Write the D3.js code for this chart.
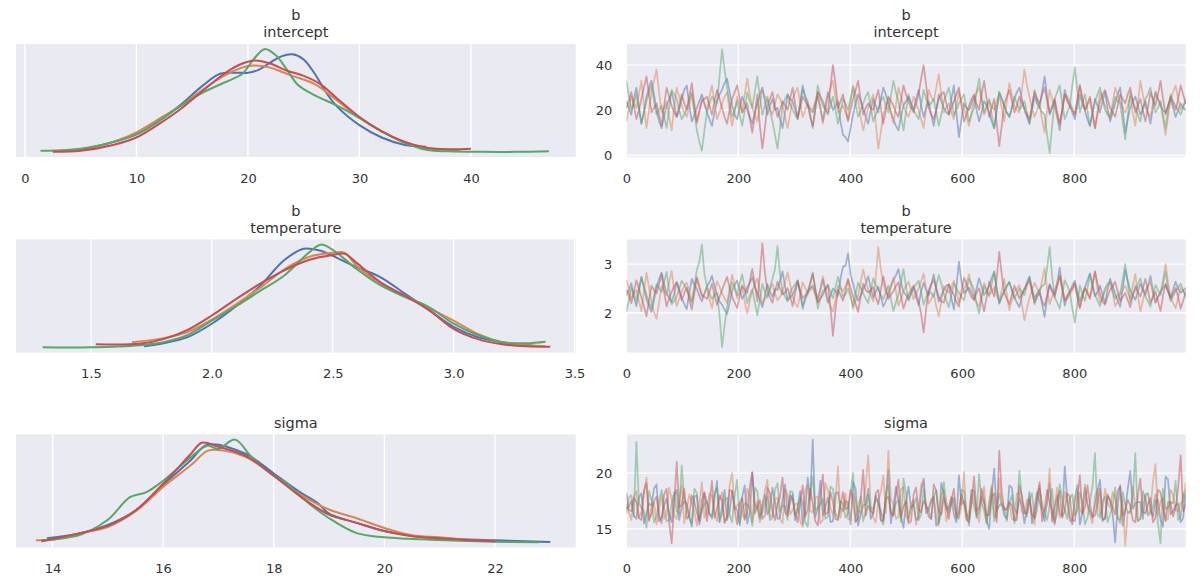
<!DOCTYPE html>
<html><head><meta charset="utf-8">
<script src="https://cdn.jsdelivr.net/npm/d3@7"></script>
<style>
body{margin:0;background:#fff}
svg text{font-family:"DejaVu Sans",sans-serif}
</style>
</head><body>
<svg id="c" width="1200" height="586"></svg>
<script>
// ---------- DATA ----------
const chainColors = ["#4C72B0", "#DD8452", "#55A868", "#C44E52"];
const drawStep = 4.5; // samples shown every 4.5 draws, A and B arrays interleaved

// KDE curves (x positions and relative density), per chain: blue, orange, green, red
const interceptKdeX = [
  [5,8,10,12,14,16,17.5,19,20,21,22,23,24,25,26,27,28,30,32,34,36],
  [3,6,8,10,12,14,16,18,19.5,20.5,22,23,24,26,28,30,32,34,36,38,39],
  [1.4,4,7,10,12,14,16,18,19.5,20.5,21.5,22.5,23.5,24.5,26,28,30,32,34,36,38,41,44,47],
  [2.5,5,8,10,12,14,16,18,19.5,20.7,22,23.5,25,26.5,28,30,32,34,36,38,40]
];
const interceptKdeY = [
  [0.02,0.10,0.17,0.30,0.46,0.65,0.76,0.77,0.77,0.80,0.87,0.93,0.95,0.90,0.76,0.58,0.44,0.26,0.14,0.07,0.05],
  [0.01,0.04,0.10,0.19,0.32,0.45,0.61,0.75,0.82,0.84,0.82,0.78,0.74,0.66,0.50,0.33,0.20,0.10,0.04,0.02,0.015],
  [0.01,0.02,0.07,0.17,0.30,0.45,0.58,0.68,0.76,0.90,1.0,0.94,0.80,0.65,0.55,0.45,0.33,0.20,0.09,0.02,0.005,0.0,0.0,0.005],
  [0.0,0.01,0.07,0.14,0.27,0.42,0.60,0.77,0.86,0.89,0.86,0.79,0.74,0.66,0.52,0.34,0.20,0.10,0.04,0.025,0.03]
];
const temperatureKdeX = [
  [1.72,1.8,1.9,2.0,2.1,2.2,2.3,2.38,2.45,2.5,2.6,2.7,2.8,2.9,3.0,3.1,3.2,3.35],
  [1.67,1.8,1.9,2.0,2.1,2.2,2.3,2.4,2.5,2.55,2.6,2.7,2.8,2.9,3.0,3.1,3.2,3.3,3.38],
  [1.3,1.5,1.7,1.8,1.9,2.0,2.1,2.2,2.3,2.4,2.45,2.5,2.6,2.7,2.8,2.9,3.0,3.1,3.2,3.3,3.38],
  [1.52,1.7,1.8,1.9,2.0,2.1,2.2,2.3,2.4,2.5,2.55,2.6,2.7,2.8,2.9,3.0,3.1,3.2,3.3,3.4]
];
const temperatureKdeY = [
  [0.01,0.04,0.10,0.23,0.40,0.60,0.85,0.96,0.94,0.89,0.78,0.68,0.52,0.36,0.20,0.10,0.05,0.01],
  [0.05,0.09,0.15,0.27,0.42,0.58,0.76,0.88,0.92,0.92,0.79,0.62,0.50,0.38,0.26,0.13,0.05,0.02,0.01],
  [0.0,0.0,0.02,0.05,0.12,0.26,0.40,0.55,0.70,0.92,1.0,0.95,0.76,0.60,0.49,0.39,0.23,0.12,0.05,0.04,0.055],
  [0.03,0.035,0.08,0.17,0.31,0.47,0.62,0.75,0.85,0.90,0.91,0.82,0.63,0.50,0.36,0.18,0.08,0.03,0.01,0.005]
];
const sigmaKdeX = [
  [13.9,14.5,15,15.5,16,16.5,16.8,17.5,18,18.5,18.8,19,19.5,20,20.5,21,22,23],
  [13.7,14,14.5,15,15.5,16,16.5,16.8,17,17.5,18,18.5,19,19.5,20,20.5,21,21.5,22],
  [13.8,14.5,15,15.4,15.7,16,16.5,16.8,17.0,17.3,17.6,18.0,18.2,18.5,19,19.5,20,21,22,22.8],
  [13.8,14.5,15,15.5,16,16.5,16.7,17,17.5,18,18.5,19,19.5,20,20.5,21,22]
];
const sigmaKdeY = [
  [0.04,0.09,0.17,0.31,0.56,0.80,0.95,0.86,0.67,0.48,0.38,0.28,0.19,0.11,0.065,0.04,0.02,0.003],
  [0.02,0.026,0.09,0.15,0.30,0.54,0.75,0.89,0.90,0.83,0.65,0.46,0.32,0.235,0.14,0.07,0.05,0.026,0.013],
  [0.02,0.074,0.22,0.44,0.49,0.60,0.83,0.94,0.91,1.0,0.83,0.65,0.59,0.44,0.235,0.09,0.05,0.023,0.006,0.0],
  [0.01,0.09,0.16,0.31,0.57,0.86,0.97,0.93,0.84,0.65,0.44,0.27,0.19,0.11,0.06,0.04,0.01]
];

// Trace samples, per chain: blue, orange, green, red.
// "A" arrays: draws 0, 9, 18, ...; "B" arrays: draws 4.5, 13.5, ... (in between)
const interceptTraceA = [
  [24,18,30,14,26,33,20,12,22,28,17,25,31,15,21,27,
   19,13,24,29,34,22,16,26,20,14,23,30,18,25,21,12,
   27,24,17,31,22,19,26,15,28,20,24,9,6,18,27,21,
   14,25,19,30,23,16,11,22,26,20,29,17,24,13,27,21,
   18,31,8,23,20,26,15,24,19,12,28,22,17,25,30,20,
   14,26,21,35,18,24,11,29,22,16,27,20,13,25,19,28,
   15,23,30,10,21,26,18,24,14,28,22,19,25,17,23,20],
  [15,26,21,33,12,28,38,19,24,11,30,22,17,27,14,25,
   20,31,16,23,28,13,26,19,34,21,15,29,24,18,27,22,
   12,25,30,17,23,20,28,14,26,33,19,22,16,31,24,11,
   21,27,3,18,25,14,30,22,17,26,20,12,29,24,36,19,
   23,16,28,21,13,25,30,18,24,20,27,15,32,22,19,38,
   26,17,23,10,29,21,14,27,24,18,31,20,25,12,28,22,
   16,30,24,19,26,13,33,21,17,28,23,9,25,31,20,24],
  [33,20,27,14,24,31,18,22,12,29,25,16,21,28,11,2,
   19,26,23,47,30,17,24,13,28,21,35,18,26,15,3,22,
   27,20,16,29,24,12,31,22,18,26,14,25,20,30,17,23,
   28,15,21,26,19,33,24,11,27,20,16,29,22,25,13,24,
   30,18,23,27,15,21,34,19,25,12,28,22,17,26,20,24,
   14,29,21,18,1,25,31,16,22,39,19,27,13,24,30,20,
   17,26,23,7,28,21,15,25,30,19,24,12,27,22,18,25],
  [21,28,16,25,35,19,23,13,30,22,17,27,20,32,15,24,
   26,18,29,21,14,25,31,19,23,10,27,3,22,28,17,24,
   20,30,16,26,22,13,28,24,19,40,21,27,15,25,33,18,
   23,20,29,14,26,22,17,31,24,19,27,40,21,16,25,28,
   18,24,30,15,22,27,20,33,17,25,4,23,29,19,26,21,
   16,28,23,30,19,25,14,27,22,18,31,20,26,12,24,29,
   21,17,27,23,30,19,25,15,28,22,33,18,26,20,31,23]
];
const interceptTraceB = [
  [21,25,22,19,30,27,15,17,25,23,20,29,22,18,24,23,
   16,19,27,32,28,18,21,23,17,19,27,24,22,20,16,19,
   25,20,23,26,20,23,21,22,24,22,15,8,12,23,24,17,
   20,22,25,27,19,13,17,24,23,25,22,21,18,20,24,19,
   25,19,16,21,23,20,19,22,15,20,25,19,21,28,25,17,
   20,23,28,26,21,17,20,25,19,22,23,16,19,22,24,21,
   19,27,20,16,24,22,21,19,21,25,20,22,21,20,21,22],
  [20,23,27,22,20,33,28,21,17,21,26,19,22,20,19,23,
   26,23,19,26,20,19,22,27,27,18,22,26,21,23,25,17,
   18,28,23,20,21,24,21,20,30,26,20,19,24,27,17,16,
   24,14,10,22,19,22,26,19,21,23,16,21,26,30,27,21,
   19,22,24,17,19,28,24,21,22,24,21,24,27,20,29,31,
   21,20,16,20,25,17,20,26,21,24,25,22,18,20,25,19,
   23,27,21,22,19,23,27,19,23,25,16,17,28,25,22,21],
  [27,23,20,19,28,24,20,17,21,27,20,18,25,19,6,11,
   23,24,35,38,23,20,18,20,24,28,26,22,20,9,12,25,
   23,18,23,26,18,21,26,20,22,20,19,23,25,23,20,26,
   21,18,24,22,26,28,17,19,23,18,22,25,23,19,18,27,
   24,20,25,21,18,28,26,22,18,20,25,19,21,23,22,19,
   21,25,19,9,13,28,23,19,31,29,23,20,18,27,25,18,
   21,24,15,17,24,18,20,27,24,21,18,20,24,20,21,23],
  [24,22,20,30,27,21,18,22,26,19,22,23,26,23,20,25,
   22,24,25,17,20,28,25,21,16,18,13,12,25,22,20,22,
   25,23,21,24,17,20,26,21,30,32,24,21,20,29,25,21,
   21,25,21,20,24,19,24,27,21,23,34,31,18,20,27,23,
   21,27,22,18,25,23,27,25,21,14,13,26,24,22,23,18,
   22,25,27,24,22,19,20,24,20,25,25,23,19,18,27,25,
   19,22,25,27,24,22,20,21,25,27,25,22,23,25,27,26]
];
const temperatureTraceA = [
  [2.36,2.61,2.14,2.74,2.28,2.02,2.52,2.83,2.40,2.22,2.63,2.31,2.08,2.70,2.49,2.24,
   2.55,2.76,2.38,2.17,1.98,2.45,2.66,2.29,2.53,2.73,2.41,2.12,2.59,2.33,2.47,2.85,
   2.26,2.37,2.64,2.09,2.44,2.56,2.30,2.69,2.21,2.50,2.35,2.95,3.22,2.60,2.25,2.48,
   2.75,2.32,2.54,2.13,2.40,2.67,2.90,2.43,2.28,2.51,2.16,2.62,2.36,2.79,2.23,2.46,
   2.58,2.07,3.05,2.41,2.52,2.29,2.71,2.37,2.55,2.84,2.19,2.44,2.63,2.33,2.12,2.50,
   2.74,2.30,2.47,1.92,2.59,2.38,2.93,2.15,2.43,2.66,2.24,2.52,2.81,2.34,2.56,2.20,
   2.70,2.40,2.13,2.88,2.46,2.27,2.60,2.37,2.76,2.21,2.44,2.57,2.31,2.64,2.42,2.51],
  [2.68,2.29,2.47,2.04,2.82,2.22,1.88,2.55,2.36,2.86,2.14,2.43,2.62,2.25,2.74,2.33,
   2.50,2.10,2.65,2.40,2.20,2.78,2.30,2.57,1.99,2.46,2.71,2.18,2.38,2.60,2.26,2.44,
   2.83,2.34,2.12,2.63,2.41,2.52,2.21,2.75,2.31,2.03,2.56,2.45,2.67,2.09,2.37,2.89,
   2.48,2.24,3.35,2.59,2.33,2.73,2.15,2.44,2.64,2.28,2.51,2.81,2.19,2.39,1.93,2.55,
   2.42,2.66,2.22,2.47,2.79,2.34,2.13,2.61,2.37,2.53,2.25,2.70,2.06,2.45,2.57,1.85,
   2.30,2.62,2.40,2.92,2.18,2.48,2.76,2.26,2.38,2.58,2.11,2.50,2.33,2.85,2.21,2.45,
   2.65,2.14,2.37,2.56,2.29,2.80,2.03,2.47,2.63,2.22,2.41,3.00,2.34,2.10,2.52,2.38],
  [2.03,2.51,2.25,2.73,2.38,2.10,2.59,2.43,2.84,2.18,2.33,2.66,2.47,2.21,2.88,3.40,
   2.55,2.29,2.41,1.30,2.13,2.63,2.36,2.79,2.20,2.48,1.95,2.60,2.31,2.70,3.37,2.44,
   2.24,2.52,2.67,2.16,2.38,2.83,2.09,2.45,2.58,2.30,2.74,2.34,2.50,2.14,2.62,2.40,
   2.20,2.71,2.48,2.28,2.56,2.04,2.37,2.90,2.25,2.52,2.66,2.17,2.44,2.33,2.78,2.39,
   2.12,2.60,2.42,2.26,2.70,2.47,1.99,2.55,2.34,2.85,2.21,2.45,2.64,2.29,2.50,2.37,
   2.75,2.18,2.48,2.59,3.35,2.32,2.09,2.67,2.43,1.80,2.56,2.25,2.80,2.38,2.14,2.51,
   2.63,2.29,2.41,3.00,2.22,2.47,2.71,2.34,2.13,2.57,2.37,2.84,2.24,2.45,2.60,2.33],
  [2.48,2.20,2.67,2.32,1.93,2.56,2.40,2.79,2.13,2.44,2.63,2.26,2.52,2.07,2.71,2.37,
   2.29,2.60,2.17,2.47,2.74,2.33,2.10,2.55,2.41,2.90,2.24,3.43,2.45,2.21,2.64,2.38,
   2.51,2.14,2.66,2.30,2.44,2.80,2.22,2.37,2.57,1.53,2.48,2.25,2.70,2.34,2.02,2.60,
   2.42,2.53,2.18,2.75,2.29,2.45,2.63,2.09,2.38,2.56,2.24,1.60,2.47,2.68,2.33,2.21,
   2.59,2.37,2.13,2.72,2.44,2.26,2.51,2.03,2.64,2.34,3.25,2.41,2.18,2.56,2.30,2.48,
   2.66,2.22,2.40,2.14,2.57,2.33,2.76,2.25,2.44,2.61,2.10,2.52,2.29,2.85,2.38,2.17,
   2.47,2.64,2.24,2.41,2.12,2.55,2.34,2.70,2.21,2.44,2.04,2.60,2.30,2.51,2.09,2.42]
];
const temperatureTraceB = [
  [2.47,2.33,2.44,2.52,2.15,2.26,2.69,2.60,2.31,2.39,2.50,2.18,2.42,2.57,2.35,2.40,
   2.63,2.55,2.24,2.07,2.20,2.58,2.46,2.38,2.61,2.53,2.27,2.36,2.43,2.49,2.66,2.54,
   2.32,2.50,2.40,2.28,2.51,2.41,2.47,2.44,2.35,2.45,2.70,2.97,2.78,2.39,2.36,2.60,
   2.51,2.43,2.33,2.24,2.55,2.77,2.62,2.37,2.40,2.32,2.44,2.48,2.58,2.50,2.36,2.56,
   2.31,2.53,2.65,2.46,2.41,2.50,2.54,2.45,2.72,2.49,2.33,2.55,2.47,2.21,2.34,2.63,
   2.49,2.40,2.19,2.30,2.47,2.61,2.52,2.33,2.56,2.44,2.39,2.67,2.54,2.43,2.37,2.48,
   2.55,2.25,2.50,2.66,2.36,2.44,2.47,2.54,2.46,2.32,2.51,2.43,2.48,2.49,2.45,2.44],
  [2.50,2.40,2.25,2.44,2.52,2.02,2.21,2.47,2.62,2.46,2.29,2.55,2.42,2.49,2.56,2.39,
   2.28,2.41,2.54,2.30,2.50,2.57,2.43,2.23,2.24,2.60,2.44,2.29,2.47,2.40,2.33,2.63,
   2.59,2.20,2.38,2.51,2.47,2.36,2.48,2.52,2.12,2.27,2.50,2.55,2.35,2.25,2.62,2.66,
   2.37,2.73,2.90,2.43,2.54,2.45,2.29,2.56,2.47,2.39,2.65,2.48,2.28,2.14,2.24,2.46,
   2.54,2.44,2.36,2.62,2.53,2.21,2.37,2.48,2.43,2.35,2.46,2.38,2.26,2.50,2.17,2.10,
   2.47,2.51,2.66,2.49,2.33,2.61,2.52,2.29,2.46,2.36,2.32,2.44,2.59,2.50,2.31,2.55,
   2.41,2.23,2.48,2.42,2.56,2.38,2.25,2.55,2.40,2.33,2.67,2.62,2.20,2.32,2.45,2.47],
  [2.25,2.40,2.52,2.54,2.21,2.36,2.51,2.63,2.46,2.24,2.50,2.58,2.33,2.56,3.05,2.80,
   2.39,2.37,1.95,1.75,2.41,2.50,2.60,2.52,2.36,2.22,2.29,2.43,2.51,2.90,2.79,2.34,
   2.41,2.59,2.40,2.30,2.58,2.48,2.29,2.49,2.44,2.52,2.55,2.38,2.34,2.40,2.51,2.30,
   2.47,2.58,2.37,2.43,2.29,2.22,2.63,2.54,2.40,2.59,2.44,2.32,2.41,2.55,2.60,2.26,
   2.36,2.51,2.33,2.47,2.59,2.20,2.30,2.43,2.58,2.50,2.34,2.55,2.46,2.40,2.44,2.56,
   2.48,2.32,2.55,2.92,2.75,2.21,2.40,2.56,2.10,2.18,2.39,2.50,2.59,2.25,2.33,2.60,
   2.46,2.36,2.68,2.62,2.37,2.58,2.51,2.24,2.36,2.47,2.59,2.50,2.35,2.52,2.47,2.41],
  [2.36,2.44,2.50,2.14,2.25,2.47,2.58,2.43,2.30,2.55,2.44,2.40,2.28,2.39,2.51,2.33,
   2.43,2.37,2.33,2.61,2.51,2.21,2.34,2.47,2.66,2.58,2.77,2.82,2.32,2.44,2.50,2.42,
   2.34,2.40,2.47,2.36,2.63,2.50,2.29,2.48,2.14,2.05,2.37,2.46,2.51,2.19,2.33,2.47,
   2.46,2.32,2.48,2.52,2.37,2.55,2.35,2.25,2.47,2.41,1.98,2.09,2.59,2.50,2.24,2.40,
   2.47,2.23,2.44,2.60,2.32,2.41,2.26,2.33,2.48,2.72,2.78,2.29,2.37,2.43,2.40,2.58,
   2.44,2.34,2.25,2.37,2.43,2.54,2.51,2.36,2.50,2.32,2.33,2.40,2.55,2.60,2.24,2.34,
   2.54,2.44,2.33,2.26,2.37,2.43,2.50,2.47,2.32,2.24,2.35,2.45,2.39,2.33,2.25,2.29]
];
const sigmaTraceA = [
  [16.8,17.5,15.9,18.2,16.4,17.1,19.0,16.0,17.7,15.6,18.5,16.9,17.3,15.2,18.0,16.6,
   17.4,16.1,19.3,17.0,15.8,18.4,16.7,17.9,15.5,20.0,16.9,17.2,16.3,18.7,15.9,17.6,
   16.5,18.1,17.0,15.4,19.6,23.0,16.8,16.2,17.8,15.7,18.3,16.6,17.4,19.2,15.3,17.1,
   18.6,16.4,17.3,15.8,20.3,16.9,17.6,15.1,18.8,17.2,16.0,19.5,16.7,17.9,15.6,18.2,
   17.0,16.3,19.8,17.5,15.9,18.4,16.6,17.3,15.0,20.4,17.1,16.2,18.9,16.8,17.7,15.5,
   18.3,16.9,17.4,15.7,19.1,17.0,16.4,20.6,16.1,17.8,15.4,18.7,16.6,17.2,19.4,16.0,
   17.6,13.8,18.9,16.5,20.2,17.3,17.4,18.0,16.7,17.5,15.8,19.7,16.3,17.1,15.6,18.4],
  [17.2,15.8,18.4,16.5,19.6,17.0,15.4,18.0,16.3,17.7,15.9,18.9,16.8,17.4,15.3,19.2,
   16.6,17.9,15.7,18.3,16.1,20.0,17.1,16.4,18.6,15.6,17.5,16.9,19.4,16.2,17.8,15.5,
   18.1,16.7,17.3,15.2,19.0,16.5,17.9,15.8,18.5,16.3,20.6,17.0,15.9,18.2,16.6,17.4,
   21.6,16.0,17.5,19.8,22.0,17.2,16.1,18.7,15.7,17.6,16.4,19.3,16.9,17.8,15.3,18.4,
   16.7,17.3,15.9,20.1,16.5,17.7,15.6,18.8,17.0,16.2,19.5,16.8,17.4,15.8,18.2,16.4,
   17.6,15.4,18.9,16.6,20.4,17.1,16.0,18.3,15.7,17.5,16.8,19.0,16.2,17.9,16.3,18.6,
   16.9,17.7,15.5,13.5,16.4,17.2,15.9,18.1,16.6,20.8,17.4,15.8,18.5,16.7,17.3,19.1],
  [16.4,18.0,22.8,16.9,15.1,17.6,16.2,18.5,15.7,17.3,16.6,20.7,17.0,15.5,18.2,16.8,
   17.5,15.9,18.7,16.3,17.8,15.6,19.4,16.7,17.2,15.3,18.4,16.5,17.9,16.0,19.1,17.1,
   15.8,18.3,16.6,17.4,15.2,19.7,16.9,17.7,16.1,18.6,15.9,17.3,16.4,20.0,17.0,15.7,
   18.1,16.8,17.5,15.4,18.9,16.2,17.6,19.5,16.0,17.2,15.8,18.5,16.7,17.9,15.6,19.2,
   16.5,17.8,16.1,18.4,15.3,17.0,19.9,16.6,17.4,15.7,18.2,16.9,17.3,15.5,20.2,16.8,
   17.6,15.9,18.6,16.4,17.1,15.6,19.0,16.7,17.8,16.2,18.3,15.4,17.5,21.8,16.0,17.9,
   16.3,18.7,15.8,17.2,16.6,21.8,15.9,17.6,16.4,18.1,13.7,16.8,17.4,19.3,16.1,17.7],
  [18.2,16.6,17.4,15.8,19.1,16.3,17.9,15.5,18.6,13.7,21.0,17.2,15.9,18.0,16.5,17.6,
   15.7,19.3,16.8,17.5,16.1,18.4,15.4,17.8,16.4,20.1,17.0,15.9,18.7,16.6,17.3,19.6,
   16.2,17.7,15.6,18.9,16.7,17.2,15.3,19.9,16.5,17.4,15.8,18.3,16.9,17.6,16.0,20.3,
   17.1,16.4,18.5,15.7,17.9,16.2,19.4,17.0,15.5,18.1,16.8,17.5,16.1,19.0,16.6,17.8,
   15.9,18.6,16.5,17.3,15.6,19.7,16.9,17.6,16.3,18.2,22.0,16.7,17.4,15.8,18.9,16.4,
   17.7,16.0,19.2,16.8,17.3,15.4,18.4,16.6,17.9,15.7,19.8,16.9,17.2,16.2,18.6,15.9,
   17.5,16.3,18.8,16.7,17.1,15.6,19.5,16.4,17.8,16.0,18.3,15.7,17.4,16.9,21.6,17.2]
];
const sigmaTraceB = [
  [17.0,16.2,17.8,15.5,17.3,18.6,15.7,17.1,16.4,18.0,15.8,17.5,16.1,17.9,15.4,18.2,
   16.3,17.7,15.6,18.5,16.6,17.0,15.3,18.9,16.5,17.2,15.9,18.1,16.8,17.4,16.0,19.0,
   17.3,15.8,18.4,16.5,17.6,16.1,19.3,17.0,15.6,18.2,16.9,17.5,15.4,18.6,16.3,17.2,
   15.9,18.0,16.6,17.7,15.5,18.8,16.2,17.4,16.9,15.8,18.3,16.4,17.6,15.3,19.1,16.7,
   17.8,15.6,17.2,16.3,18.5,16.0,17.9,15.7,18.1,16.6,17.3,15.9,18.7,16.4,17.1,16.8,
   15.5,18.3,16.7,17.5,15.8,18.0,16.2,17.7,15.4,18.9,16.5,17.2,16.0,18.4,15.7,17.9,
   16.4,17.0,15.3,18.6,16.8,17.4,15.9,18.2,16.1,17.6,15.2,19.4,16.6,17.3,16.0,18.5],
  [16.5,17.9,16.0,18.3,15.7,17.4,16.8,15.9,18.7,16.2,17.6,15.5,18.1,16.6,17.2,16.0,
   18.2,16.4,17.6,15.5,18.9,16.7,17.3,15.8,18.0,16.9,15.6,18.4,16.1,17.7,15.9,18.6,
   16.3,17.2,15.7,18.5,16.6,17.8,15.5,19.1,16.9,17.4,16.0,18.2,15.8,17.6,16.5,18.8,
   17.0,15.6,18.3,16.4,17.7,15.9,18.6,16.2,17.3,15.4,19.0,16.8,17.5,16.1,18.1,15.7,
   17.9,16.3,17.1,15.8,18.4,16.6,17.7,15.5,18.9,16.0,17.4,16.7,15.9,18.2,16.5,17.6,
   16.1,18.0,16.9,17.3,15.6,18.7,16.4,17.5,15.8,18.2,16.3,17.1,15.5,18.6,16.8,17.4,
   18.3,16.0,17.6,16.5,18.8,15.7,17.2,16.4,19.2,16.2,17.8,15.9,18.0,16.6,17.5,16.1],
  [17.8,16.1,17.3,16.6,18.4,15.6,17.5,16.9,15.8,18.3,16.4,17.7,16.0,18.6,15.9,17.2,
   16.4,18.2,15.7,17.6,16.3,18.0,15.5,17.3,16.8,18.7,16.1,17.4,15.8,18.5,16.6,17.0,
   18.4,16.2,17.8,15.6,18.1,16.7,17.2,15.9,18.8,16.4,17.5,16.0,18.3,15.7,17.9,16.5,
   16.9,17.6,15.8,18.3,16.5,17.3,15.6,18.2,16.9,17.8,16.3,17.0,15.9,18.5,16.4,17.4,
   17.2,15.9,18.5,16.6,17.9,16.2,17.4,15.5,18.7,16.8,17.1,15.7,18.0,16.4,17.6,16.1,
   18.2,16.7,17.3,15.8,18.6,16.4,17.7,15.9,18.1,16.6,17.4,16.0,18.8,16.3,17.5,15.6,
   17.1,16.0,18.3,16.5,17.8,15.7,18.4,16.2,17.0,15.5,18.6,16.9,17.3,15.8,18.2,16.7],
  [16.7,17.8,16.0,18.4,15.8,17.5,16.3,18.1,15.6,17.2,16.9,18.6,16.2,17.4,15.7,18.3,
   17.2,16.0,18.0,15.6,18.5,16.7,17.3,15.9,18.8,16.4,17.6,16.2,18.2,15.8,17.9,16.5,
   18.0,16.4,17.4,16.1,18.6,15.7,17.8,16.3,18.3,15.9,17.1,16.8,18.5,15.6,17.6,16.2,
   16.6,18.2,15.8,17.7,16.4,18.0,16.0,17.5,15.7,18.7,16.5,17.2,15.9,18.4,16.3,17.0,
   17.5,16.1,18.1,15.9,17.3,16.6,18.6,16.2,17.9,15.6,18.3,16.8,17.1,15.8,18.0,16.4,
   16.3,17.6,15.7,18.5,16.7,17.4,16.0,18.2,15.8,17.7,16.4,18.9,16.1,17.3,15.9,18.1,
   17.0,18.4,16.2,17.6,15.8,18.0,16.5,17.2,15.6,18.5,16.9,17.4,16.1,18.7,16.6,17.9]
];

// Tick labels
const interceptKdeTicks = [0, 10, 20, 30, 40];
const temperatureKdeTicks = [1.5, 2.0, 2.5, 3.0, 3.5];
const sigmaKdeTicks = [14, 16, 18, 20, 22];
const drawTicks = [0, 200, 400, 600, 800];
const interceptTraceTicks = [0, 20, 40];
const temperatureTraceTicks = [2, 3];
const sigmaTraceTicks = [15, 20];

const titles = [["b", "intercept"], ["b", "temperature"], ["sigma"]];

// ---------- LAYOUT ----------
const interleave = (a, b) => a.map((ch, c) => ch.flatMap((v, i) => [v, b[c][i]]));
const svg = d3.select("#c");
const rowTops = [44, 239.5, 434.5];
const H = 113;
const colL = {x: 16, w: 559.7};
const colR = {x: 626.3, w: 559.4};
const textColor = "#333333";
const bg = "#EAEAF2";

const rows = [
  {title: titles[0], domain: [-0.8, 49.4], kx: interceptKdeX, ky: interceptKdeY, kt: interceptKdeTicks, kf: d3.format("d"), tr: interleave(interceptTraceA, interceptTraceB), tt: interceptTraceTicks},
  {title: titles[1], domain: [1.19, 3.505], kx: temperatureKdeX, ky: temperatureKdeY, kt: temperatureKdeTicks, kf: d3.format(".1f"), tr: interleave(temperatureTraceA, temperatureTraceB), tt: temperatureTraceTicks},
  {title: titles[2], domain: [13.34, 23.46], kx: sigmaKdeX, ky: sigmaKdeY, kt: sigmaKdeTicks, kf: d3.format("d"), tr: interleave(sigmaTraceA, sigmaTraceB), tt: sigmaTraceTicks}
];

function styleAxis(g) {
  g.select(".domain").remove();
  g.attr("font-size", 13).attr("font-family", "DejaVu Sans, sans-serif").attr("color", textColor);
}

function addTitle(col, top, lines) {
  const cx = col.x + col.w / 2;
  const n = lines.length;
  lines.forEach((t, i) => {
    svg.append("text")
      .attr("x", cx).attr("y", top - 7 - (n - 1 - i) * 17)
      .attr("text-anchor", "middle")
      .attr("font-size", 14.5)
      .attr("fill", textColor)
      .text(t);
  });
}

rows.forEach((r, ri) => {
  const top = rowTops[ri];

  // ---- KDE panel ----
  const clipL = "clipL" + ri;
  svg.append("clipPath").attr("id", clipL).append("rect").attr("width", colL.w).attr("height", H);
  const gL = svg.append("g").attr("transform", `translate(${colL.x},${top})`);
  gL.append("rect").attr("width", colL.w).attr("height", H).attr("fill", bg);
  const x = d3.scaleLinear().domain(r.domain).range([0, colL.w]);
  const allY = r.ky.flat();
  const mn = d3.min(allY), mx = d3.max(allY), pad = (mx - mn) * 0.05;
  const y = d3.scaleLinear().domain([mn - pad, mx + pad]).range([H, 0]);
  gL.append("g").selectAll("line").data(r.kt).join("line")
    .attr("x1", d => x(d)).attr("x2", d => x(d)).attr("y1", 0).attr("y2", H)
    .attr("stroke", "#fff").attr("stroke-width", 1.3);
  const kLine = d3.line().curve(d3.curveCatmullRom.alpha(0.5));
  const plotL = gL.append("g").attr("clip-path", `url(#${clipL})`);
  r.kx.forEach((xs, c) => {
    const pts = xs.map((v, i) => [x(v), y(r.ky[c][i])]);
    plotL.append("path").attr("d", kLine(pts))
      .attr("fill", "none").attr("stroke", chainColors[c]).attr("stroke-width", 2);
  });
  gL.append("g").attr("transform", `translate(0,${H})`)
    .call(d3.axisBottom(x).tickValues(r.kt).tickFormat(r.kf).tickSize(0).tickPadding(16.5))
    .call(styleAxis);
  addTitle(colL, top, r.title);

  // ---- Trace panel ----
  const clipR = "clipR" + ri;
  svg.append("clipPath").attr("id", clipR).append("rect").attr("width", colR.w).attr("height", H);
  const gR = svg.append("g").attr("transform", `translate(${colR.x},${top})`);
  gR.append("rect").attr("width", colR.w).attr("height", H).attr("fill", bg);
  const tx = d3.scaleLinear().domain([0, 999]).range([0, colR.w]);
  const ty = d3.scaleLinear().domain(r.domain).range([H, 0]);
  gR.append("g").selectAll("line").data(drawTicks).join("line")
    .attr("x1", d => tx(d)).attr("x2", d => tx(d)).attr("y1", 0).attr("y2", H)
    .attr("stroke", "#fff").attr("stroke-width", 1.3);
  gR.append("g").selectAll("line").data(r.tt).join("line")
    .attr("x1", 0).attr("x2", colR.w).attr("y1", d => ty(d)).attr("y2", d => ty(d))
    .attr("stroke", "#fff").attr("stroke-width", 1.3);
  const plotR = gR.append("g").attr("clip-path", `url(#${clipR})`);
  const tLine = d3.line().x((d, i) => tx(i * drawStep)).y(d => ty(d));
  r.tr.forEach((vals, c) => {
    plotR.append("path").attr("d", tLine(vals))
      .attr("fill", "none").attr("stroke", chainColors[c])
      .attr("stroke-width", 1.7).attr("stroke-opacity", 0.5)
      .attr("stroke-linejoin", "round");
  });
  gR.append("g").attr("transform", `translate(0,${H})`)
    .call(d3.axisBottom(tx).tickValues(drawTicks).tickFormat(d3.format("d")).tickSize(0).tickPadding(16.5))
    .call(styleAxis);
  gR.append("g")
    .call(d3.axisLeft(ty).tickValues(r.tt).tickFormat(d3.format("d")).tickSize(0).tickPadding(14))
    .call(styleAxis);
  addTitle(colR, top, r.title);
});
</script>
</body></html>
